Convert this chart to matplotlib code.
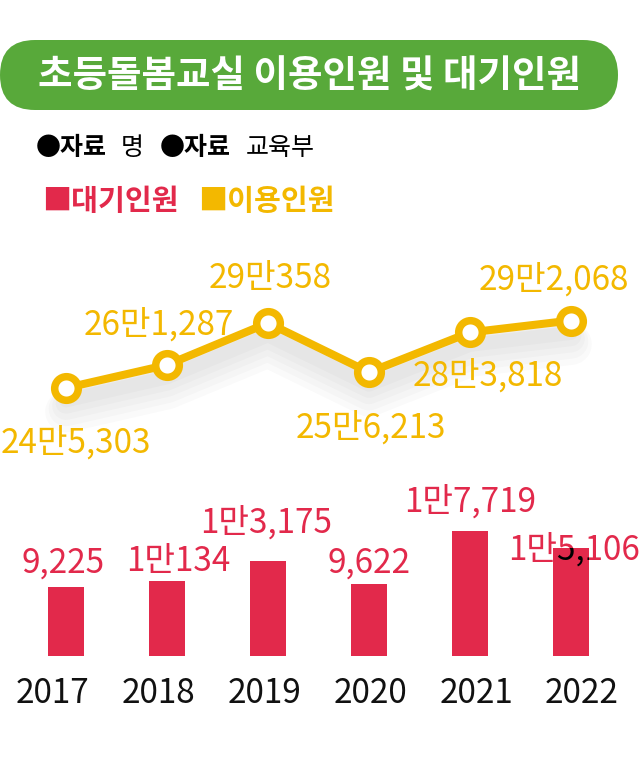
import matplotlib
matplotlib.use("Agg")
import matplotlib.pyplot as plt
import matplotlib.patheffects as pe
from matplotlib.patches import FancyBboxPatch

plt.rcParams['font.family'] = ['Noto Sans CJK KR', 'DejaVu Sans']

# ---------------- data ----------------
years = ['2017', '2018', '2019', '2020', '2021', '2022']
users = [245303, 261287, 290358, 256213, 283818, 292068]          # 이용인원
users_labels = ['24만5,303', '26만1,287', '29만358', '25만6,213', '28만3,818', '29만2,068']
waiting = [9225, 10134, 13175, 9622, 17719, 15106]                 # 대기인원
waiting_labels = ['9,225', '1만134', '1만3,175', '9,622', '1만7,719', '1만5,106']

title = '초등돌봄교실 이용인원 및 대기인원'
legend_items = ['■대기인원', '■이용인원']

# ---------------- style ----------------
RED = '#E2294B'
YELLOW = '#F3B800'
GREEN = '#58A93A'
W, H = 640, 759

# label offsets in px (dx, baseline dy up)
line_lab_off = [(10, -65), (-8, 30), (2, 35), (2, -65), (18, -53), (-17, 31)]
bar_lab_off = [(-3, 14), (11, 10), (-2, 28), (0, 12), (0, 19), (3, -11)]

fig = plt.figure(figsize=(W / 100, H / 100), dpi=100)
fig.patch.set_facecolor('white')


def px_axes(left, top, right, bottom, **kw):
    return fig.add_axes([left / W, 1 - bottom / H, (right - left) / W, (bottom - top) / H], **kw)


# ---------------- overlay (title, source, legend) ----------------
ov = px_axes(0, 0, W, H)
ov.set_xlim(0, W)
ov.set_ylim(H, 0)
ov.axis('off')
ov.add_patch(FancyBboxPatch((0, 40), 618, 70, boxstyle='round,pad=0,rounding_size=35',
                            fc=GREEN, ec='none'))
ov.text(309, 76, title, color='white', fontsize=27, fontweight='bold',
        ha='center', va='center')
ov.text(36, 148, '●자료', fontsize=18, fontweight='bold', color='black', va='center', ha='left')
ov.text(121, 148, '명', fontsize=18, color='black', va='center', ha='left')
ov.text(160, 148, '●자료', fontsize=18, fontweight='bold', color='black', va='center', ha='left')
ov.text(246, 148, '교육부', fontsize=18, color='black', va='center', ha='left')
ov.text(42, 201, legend_items[0], fontsize=21, fontweight='bold', color=RED, va='center', ha='left')
ov.text(198, 201, legend_items[1], fontsize=21, fontweight='bold', color=YELLOW, va='center', ha='left')

x = list(range(len(years)))

# ---------------- line chart ----------------
lax = px_axes(15.5, 250, 621.5, 480)
lax.set_xlim(-0.5, 5.5)
lax.set_ylim(181547, 340937)
lax.axis('off')
lax.patch.set_alpha(0)
shadow = [pe.SimpleLineShadow(offset=(0, -9 - i * 2), shadow_color='#000000', alpha=0.018,
                              linewidth=10 + i * 5) for i in range(5)]
lax.plot(x, users, color=YELLOW, lw=5.8, solid_capstyle='round', zorder=2,
         path_effects=shadow + [pe.Normal()])
lax.plot(x, users, ls='none', marker='o', ms=17, mfc='white', mec=YELLOW, mew=5.4, zorder=3)
for i, (v, lab) in enumerate(zip(users, users_labels)):
    dx, dy = line_lab_off[i]
    lax.annotate(lab, (i, v), xytext=(dx * 0.72, dy * 0.72), textcoords='offset points',
                 ha='center', va='baseline', fontsize=24, color=YELLOW, zorder=4)

# ---------------- bar chart ----------------
bax = px_axes(15.5, 470, 621.5, 656)
base = -1244
bax.set_xlim(-0.5, 5.5)
bax.set_ylim(base, 26981)
bax.axis('off')
bax.patch.set_alpha(0)
bars = bax.bar(x, [v - base for v in waiting], bottom=base, width=36 / 101, color=RED,
               zorder=2, linewidth=0)
for i, (v, lab) in enumerate(zip(waiting, waiting_labels)):
    dx, dy = bar_lab_off[i]
    bax.annotate(lab, (i, v), xytext=(dx * 0.72, dy * 0.72), textcoords='offset points',
                 ha='center', va='baseline', fontsize=24, color=RED, zorder=3)
    t = bax.annotate(lab, (i, v), xytext=(dx * 0.72, dy * 0.72), textcoords='offset points',
                     ha='center', va='baseline', fontsize=24, color='black', zorder=4)
    t.set_clip_path(bars[i])

# ---------------- year labels ----------------
yax = px_axes(4.3, 656, 629.7, H)
yax.set_xlim(-0.45, 5.45)
yax.set_ylim(H, 656)
yax.axis('off')
yax.patch.set_alpha(0)
for i, yr in enumerate(years):
    yax.text(i, 703, yr, ha='center', va='baseline', fontsize=24, color='#111111')

fig.savefig('out.png', dpi=100, facecolor='white')
